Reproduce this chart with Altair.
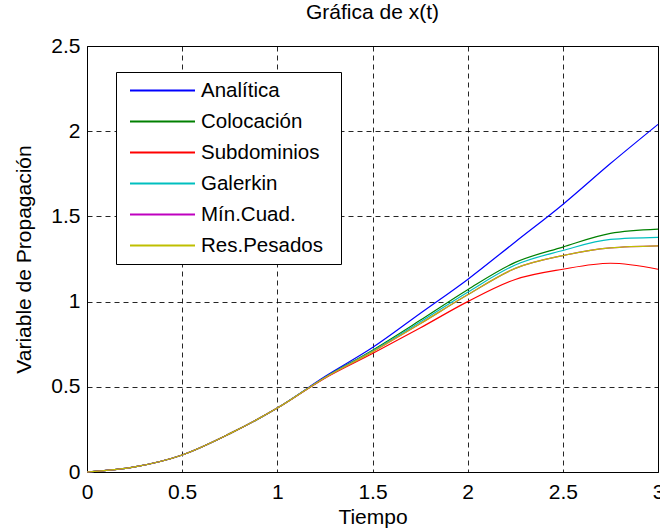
import altair as alt
import pandas as pd

# Time samples
t = [0, 0.25, 0.5, 0.75, 1.0, 1.25, 1.5, 1.75, 2.0, 2.25, 2.5, 2.75, 3.0]

analitica   = [0, 0.03, 0.10, 0.225, 0.375, 0.56, 0.73, 0.93, 1.13, 1.35, 1.57, 1.81, 2.04]
colocacion  = [0, 0.03, 0.10, 0.225, 0.375, 0.555, 0.715, 0.89, 1.07, 1.23, 1.32, 1.40, 1.425]
subdominios = [0, 0.03, 0.10, 0.225, 0.375, 0.55, 0.695, 0.845, 1.00, 1.13, 1.19, 1.225, 1.19]
galerkin    = [0, 0.03, 0.10, 0.225, 0.375, 0.555, 0.71, 0.88, 1.055, 1.215, 1.30, 1.365, 1.377]
min_cuad    = [0, 0.03, 0.10, 0.225, 0.375, 0.553, 0.705, 0.87, 1.04, 1.195, 1.27, 1.315, 1.327]
res_pesados = [0, 0.03, 0.10, 0.225, 0.375, 0.553, 0.705, 0.87, 1.04, 1.195, 1.27, 1.315, 1.327]

series_names = ["Analítica", "Colocación", "Subdominios", "Galerkin", "Mín.Cuad.", "Res.Pesados"]
series_values = [analitica, colocacion, subdominios, galerkin, min_cuad, res_pesados]
series_colors = ["#0000ff", "#008000", "#ff0000", "#00bfbf", "#bf00bf", "#bfbf00"]

x_ticks = [0, 0.5, 1, 1.5, 2, 2.5, 3]
y_ticks = [0, 0.5, 1, 1.5, 2, 2.5]

rows = []
for k, (name, vals) in enumerate(zip(series_names, series_values)):
    for ti, v in zip(t, vals):
        rows.append({"Tiempo": ti, "valor": v, "serie": name, "k": k})
df = pd.DataFrame(rows)

FONT = "Liberation Sans"

chart = (
    alt.Chart(df)
    .mark_line(strokeWidth=1.2, interpolate="monotone")
    .encode(
        x=alt.X(
            "Tiempo:Q",
            scale=alt.Scale(domain=[0, 3], nice=False, zero=False),
            axis=alt.Axis(
                values=x_ticks, format="~g", title="Tiempo",
                labelPadding=9, titlePadding=4, labelFlush=False,
            ),
        ),
        y=alt.Y(
            "valor:Q",
            scale=alt.Scale(domain=[0, 2.5], nice=False),
            axis=alt.Axis(
                values=y_ticks, format="~g", title="Variable de Propagación",
                labelPadding=7, titlePadding=16, labelFlush=False,
            ),
        ),
        color=alt.Color(
            "serie:N",
            scale=alt.Scale(domain=series_names, range=series_colors),
            sort=series_names,
            legend=alt.Legend(
                title=None,
                orient="none",
                legendX=29,
                legendY=26,
                symbolType="stroke",
                symbolSize=4225,
                symbolStrokeWidth=1.8,
                symbolOffset=10,
                labelOffset=5,
                labelFontSize=20.5,
                labelFont=FONT,
                labelColor="#000000",
                labelExpr="datum.label + '\u2800'",
                clipHeight=31,
                rowPadding=0,
                padding=3,
                strokeColor="#000000",
                fillColor="#ffffff",
                cornerRadius=0,
            ),
        ),
        order=alt.Order("k:Q"),
        detail="serie:N",
    )
    .properties(
        width=571,
        height=426,
        autosize=alt.AutoSizeParams(type="none"),
        padding={"left": 87, "top": 46, "right": 2, "bottom": 57},
        title=alt.TitleParams(
            "Gráfica de x(t)", fontSize=21, font=FONT, fontWeight="normal",
            anchor="middle", offset=12, color="#000000", frame="group",
        ),
    )
    .configure(background="#ffffff")
    .configure_view(stroke="#000000", strokeWidth=1)
    .configure_axis(
        grid=True,
        gridColor="#000000",
        gridDash=[5, 4],
        gridWidth=1,
        gridOpacity=0.85,
        ticks=False,
        domain=False,
        labelFont=FONT,
        labelFontSize=21,
        labelColor="#000000",
        titleFont=FONT,
        titleFontSize=21,
        titleFontWeight="normal",
        titleColor="#000000",
    )
)

chart.save("out.html", embed_options={"renderer": "svg", "actions": False})
